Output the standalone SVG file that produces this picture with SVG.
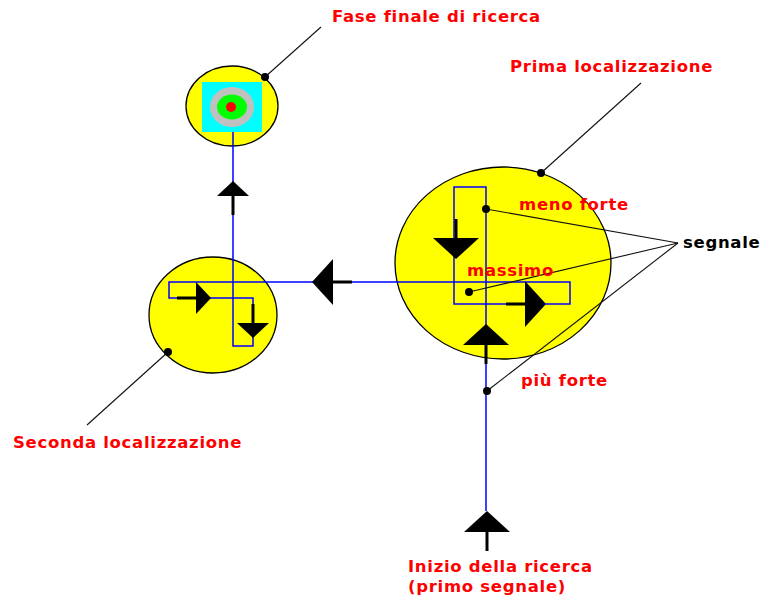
<svg xmlns="http://www.w3.org/2000/svg" xmlns:xlink="http://www.w3.org/1999/xlink" width="763" height="601" viewBox="0 0 763 601">
  <style>
    .zone { fill: #ffff00; stroke: #000; stroke-width: 1.3; }
    .path { fill: none; stroke: #0000ff; stroke-width: 1.5; }
    .leader { fill: none; stroke: #111; stroke-width: 1.1; }
    .dot { fill: #000; }
    .lbl { font-family: "DejaVu Sans", "Liberation Sans", sans-serif; font-weight: bold; font-size: 16.5px; letter-spacing: 0.7px; fill: #ff0000; }
    .lbl.dark { fill: #000; }
  </style>
  <defs>
    <!-- arrow pointing up, tip at origin -->
    <g id="bigArrow">
      <polygon points="0,0 -23,21 23,21" fill="#000"/>
      <line x1="0" y1="20" x2="0" y2="40" stroke="#000" stroke-width="3"/>
    </g>
    <g id="smallArrow">
      <polygon points="0,0 -16,15 16,15" fill="#000"/>
      <line x1="0" y1="14" x2="0" y2="34" stroke="#000" stroke-width="3"/>
    </g>
  </defs>

  <!-- search zones -->
  <g id="zone-final">
    <ellipse class="zone" cx="232" cy="106" rx="46" ry="40"/>
    <rect x="202" y="82" width="60" height="50" fill="#00ffff"/>
    <ellipse cx="232" cy="107" rx="22" ry="20" fill="#c0c0c0"/>
    <ellipse cx="232" cy="107" rx="15" ry="12.5" fill="#00ff00"/>
    <ellipse cx="231" cy="107" rx="5" ry="5" fill="#ff0000"/>
  </g>
  <g id="zone-first">
    <ellipse class="zone" cx="503" cy="263" rx="108" ry="96"/>
  </g>
  <g id="zone-second">
    <ellipse class="zone" cx="213" cy="315" rx="64" ry="58"/>
  </g>

  <!-- connectors: search track and pointer lines -->
  <g id="connectors">
    <polyline class="path" points="486,511 486,187 454,187 454,304 570,304 570,282 169,282 169,298 253,298 253,346 233,346 233,132"/>

    <use xlink:href="#bigArrow" transform="translate(487,511)"/>
    <use xlink:href="#bigArrow" transform="translate(486,324)"/>
    <use xlink:href="#bigArrow" transform="translate(456,259) rotate(180)"/>
    <use xlink:href="#bigArrow" transform="translate(546,304) rotate(90)"/>
    <use xlink:href="#bigArrow" transform="translate(312,282) rotate(-90)"/>
    <use xlink:href="#smallArrow" transform="translate(233,181)"/>
    <use xlink:href="#smallArrow" transform="translate(211,298) rotate(90)"/>
    <use xlink:href="#smallArrow" transform="translate(253,338) rotate(180)"/>

    <line class="leader" x1="265" y1="77" x2="321" y2="27"/>
    <line class="leader" x1="541" y1="173" x2="641" y2="83"/>
    <line class="leader" x1="168" y1="352" x2="87" y2="425"/>
    <line class="leader" x1="486" y1="209" x2="678" y2="243"/>
    <line class="leader" x1="469" y1="292" x2="678" y2="243"/>
    <line class="leader" x1="487" y1="391" x2="678" y2="243"/>

    <circle class="dot" cx="265" cy="77" r="4"/>
    <circle class="dot" cx="541" cy="173" r="4"/>
    <circle class="dot" cx="168" cy="352" r="4"/>
    <circle class="dot" cx="486" cy="209" r="4"/>
    <circle class="dot" cx="469" cy="292" r="4"/>
    <circle class="dot" cx="487" cy="391" r="4"/>
  </g>

  <!-- labels -->
  <g id="labels">
    <text class="lbl" x="332" y="22">Fase finale di ricerca</text>
    <text class="lbl" x="510" y="72">Prima localizzazione</text>
    <text class="lbl" x="519" y="210">meno forte</text>
    <text class="lbl" x="467" y="276">massimo</text>
    <text class="lbl dark" x="683" y="248">segnale</text>
    <text class="lbl" x="521" y="386">più forte</text>
    <text class="lbl" x="13" y="448">Seconda localizzazione</text>
    <text class="lbl" x="408" y="572">Inizio della ricerca</text>
    <text class="lbl" x="408" y="592">(primo segnale)</text>
  </g>
</svg>
